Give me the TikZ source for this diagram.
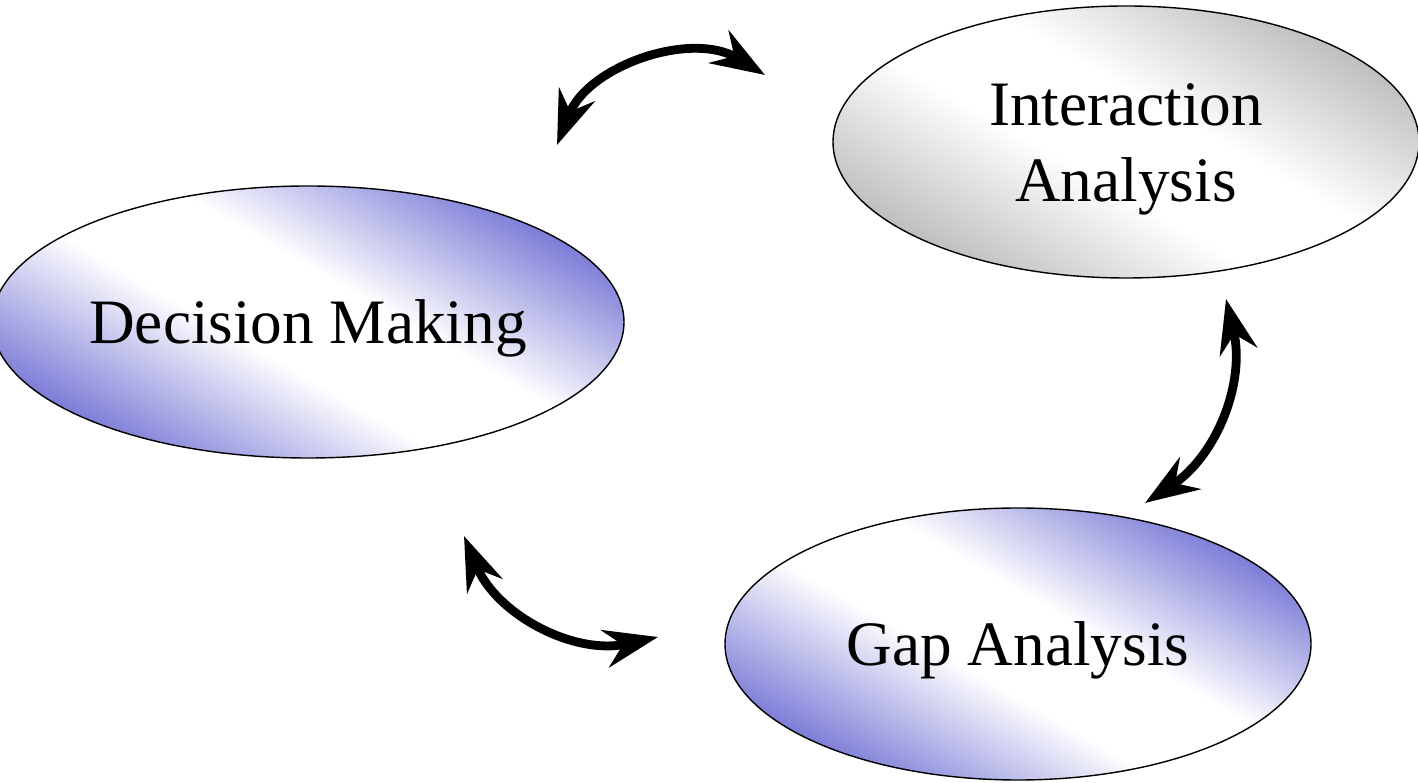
\documentclass[tikz,border=0pt]{standalone}
\usepackage{fontspec}
\setmainfont{Liberation Serif}
\usetikzlibrary{arrows.meta, shapes.geometric}
\definecolor{ovalblue}{RGB}{100,100,208}
\definecolor{ovalgray}{RGB}{178,178,178}
\pgfdeclareverticalshading{blueshade}{100bp}{color(0bp)=(ovalblue); color(22bp)=(ovalblue);
    color(44bp)=(white); color(56bp)=(white); color(78bp)=(ovalblue); color(100bp)=(ovalblue)}
\pgfdeclareverticalshading{grayshade}{100bp}{color(0bp)=(ovalgray); color(22bp)=(ovalgray);
    color(44bp)=(white); color(56bp)=(white); color(78bp)=(ovalgray); color(100bp)=(ovalgray)}

\begin{document}
\begin{tikzpicture}[
    >={Stealth[length=1.35cm, width=0.95cm, inset=0.45cm]},
    oval/.style={draw, line width=1pt, ellipse, minimum width=14.65cm, minimum height=6.8cm,
        align=center, font=\fontsize{45}{54}\selectfont},
    oneline/.style={text height=1.25cm, text depth=0.15cm},
    blueoval/.style={oval, shade, shading=blueshade, shading angle=-30},
    grayoval/.style={oval, shade, shading=grayshade, shading angle=-30},
    link/.style={<->, line width=0.22cm}
]
\useasboundingbox (0,0) rectangle (35.45,19.575);

% ovals
\node[blueoval, oneline] (decision) at (7.70,11.525) {Decision Making};
\node[grayoval] (interaction) at (28.15,16.025) {\rule{0pt}{1.4cm}Interaction\\Analysis};
\node[blueoval, oneline] (gap) at (25.45,3.475) {Gap Analysis};

% arrow ends
\coordinate (dec2int) at (13.925,15.95);
\coordinate (int2dec) at (19.125,17.70);
\coordinate (gap2int) at (28.625,7.00);
\coordinate (int2gap) at (30.65,12.10);
\coordinate (dec2gap) at (11.60,6.175);
\coordinate (gap2dec) at (16.45,3.65);

% arrows
\draw[link] (dec2int) to[bend left=50] (int2dec);
\draw[link] (gap2int) to[bend right=35] (int2gap);
\draw[link] (dec2gap) to[bend right=40] (gap2dec);

\end{tikzpicture}
\end{document}
